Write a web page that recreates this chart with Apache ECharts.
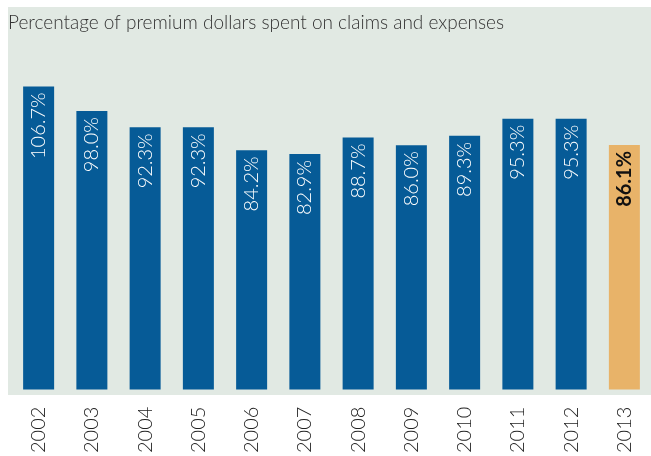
<!DOCTYPE html>
<html>
<head>
<meta charset="utf-8">
<script src="https://cdn.jsdelivr.net/npm/echarts@6/dist/echarts.min.js"></script>
<style>
  html, body { margin: 0; padding: 0; background: #ffffff; }
  #chart { width: 651px; height: 456px; }
</style>
</head>
<body>
<div id="chart"></div>
<script>
// years on the x axis
var years = ['2002', '2003', '2004', '2005', '2006', '2007', '2008', '2009', '2010', '2011', '2012', '2013']
// percentage of premium dollars spent on claims and expenses
var ratios = [106.7, 98.0, 92.3, 92.3, 84.2, 82.9, 88.7, 86.0, 89.3, 95.3, 95.3, 86.1]
var titleText = 'Percentage of premium dollars spent on claims and expenses'

var blue = '#065B97'
var gold = '#E8B369'
var lastIndex = years.length - 1

var chart = echarts.init(document.getElementById('chart'))

var barData = ratios.map(function (v, i) {
  if (i === lastIndex) {
    return {
      value: v,
      itemStyle: { color: gold },
      label: { color: '#111111', fontWeight: 'bold' }
    }
  }
  return { value: v }
})

var option = {
  animation: false,
  textStyle: { fontFamily: 'Lato' },
  graphic: [
    {
      type: 'rect',
      z: -10,
      shape: { x: 8, y: 7, width: 643, height: 388 },
      style: { fill: '#E1E9E3' }
    }
  ],
  title: {
    text: titleText,
    left: 3,
    top: 8,
    textStyle: {
      fontFamily: 'Lato',
      fontWeight: 300,
      fontSize: 19,
      color: '#333333'
    }
  },
  grid: {
    left: 12,
    width: 644,
    top: 77,
    height: 317
  },
  xAxis: {
    type: 'category',
    data: years,
    axisLine: { show: false },
    axisTick: { show: false },
    axisLabel: {
      rotate: 90,
      margin: 17,
      fontSize: 20,
      fontWeight: 300,
      color: '#222222',
      fontFamily: 'Lato'
    }
  },
  yAxis: {
    type: 'value',
    min: 0,
    max: 110,
    show: false,
    splitLine: { show: false }
  },
  series: [
    {
      type: 'bar',
      data: barData,
      barWidth: 31,
      itemStyle: { color: blue },
      label: {
        show: true,
        position: 'insideTop',
        rotate: 90,
        align: 'right',
        verticalAlign: 'middle',
        distance: 6,
        fontSize: 20,
        fontWeight: 300,
        fontFamily: 'Lato',
        color: '#ffffff',
        formatter: function (p) {
          return p.value.toFixed(1) + '%'
        }
      }
    }
  ]
}

chart.setOption(option)
</script>
</body>
</html>
